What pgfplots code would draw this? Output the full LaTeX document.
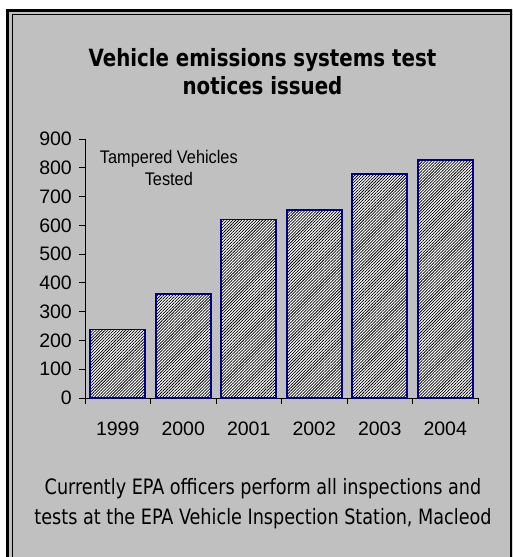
\documentclass[border=0pt]{standalone}
\usepackage{pgfplots}
\pgfplotsset{compat=1.18}
\usepackage{fontspec}
\setmainfont{Liberation Sans}
\newfontfamily\titlefont{DejaVu Sans Condensed}
\usetikzlibrary{patterns.meta}
\definecolor{bggray}{RGB}{192,192,192}
\definecolor{barblue}{RGB}{0,0,140}
\begin{document}
\begin{tikzpicture}[x=1pt,y=1pt]
\useasboundingbox (0,0) rectangle (512,557);
\begin{scope}
\clip (0,0) rectangle (512,557);
\fill[bggray] (6,-20) rectangle (540,548);
\draw[line width=3pt] (7.5,-20) -- (7.5,546.5) -- (511.5,546.5) -- (511.5,-20);
\draw[line width=1.6pt] (12.5,-20) -- (12.5,542.5) -- (520,542.5);
\end{scope}
\node[anchor=base, inner sep=0pt, font=\titlefont\bfseries\fontsize{22}{26}\selectfont] at (262.5,490.3) {\scalebox{1}[1.08]{Vehicle emissions systems test}};
\node[anchor=base, inner sep=0pt, font=\titlefont\bfseries\fontsize{22}{26}\selectfont] at (262.5,462.7) {\scalebox{1}[1.08]{notices issued}};
\node[anchor=base, inner sep=0pt, font=\titlefont\fontsize{19.6}{24}\selectfont] at (263,62) {\scalebox{1}[1.08]{Currently EPA officers perform all inspections and}};
\node[anchor=base, inner sep=0pt, font=\titlefont\fontsize{19.6}{24}\selectfont] at (263,32) {\scalebox{1}[1.08]{tests at the EPA Vehicle Inspection Station, Macleod}};
\begin{axis}[
  at={(85pt,159pt)}, anchor=south west,
  scale only axis, width=393pt, height=259pt,
  xmin=-0.5, xmax=5.5, ymin=0, ymax=900,
  axis x line*=bottom, axis y line*=left,
  axis line style={black, line width=0.8pt, -},
  tick style={black, line width=0.8pt},
  tick align=outside,
  xtick={0,1,2,3,4,5},
  xticklabels={1999,2000,2001,2002,2003,2004},
  major x tick style={draw=none},
  minor xtick={-0.5,0.5,1.5,2.5,3.5,4.5,5.5},
  minor tick length=6pt,
  major tick length=6pt,
  ytick={0,100,...,900},
  /pgf/number format/assume math mode=true,
  ticklabel style={font=\fontsize{19.5}{22}\selectfont},
  xticklabel style={anchor=base, inner sep=0pt, yshift=-32pt},
  yticklabel style={anchor=east, inner sep=0pt, xshift=-7pt},
  clip=false,
]
\addplot[ybar, bar width=55pt, draw=barblue, line width=1.8pt,
  preaction={fill=white},
  preaction={pattern={Lines[angle=45,distance=2.1pt,line width=0.75pt]}, pattern color=black}]
  coordinates {(0,238) (1,361) (2,620) (3,653) (4,779) (5,828)};
\node[align=center, font=\fontsize{16.3}{21.5}\selectfont, anchor=north, inner sep=0pt] at (axis cs:0.78,861) {\scalebox{1}[1.12]{Tampered Vehicles}\\\scalebox{1}[1.12]{Tested}};
\end{axis}
\end{tikzpicture}
\end{document}
